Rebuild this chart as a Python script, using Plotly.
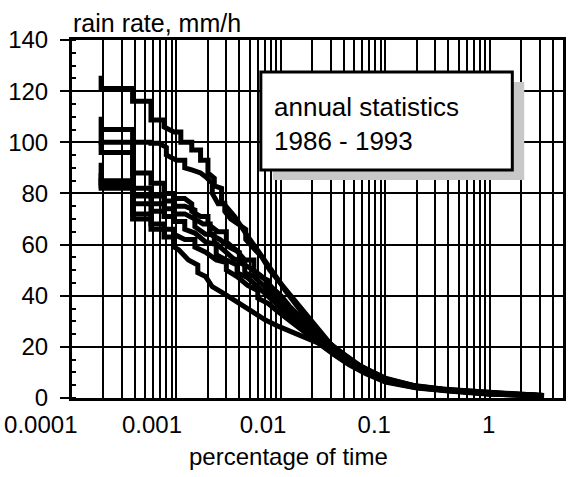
import plotly.graph_objects as go

# Exceedance curves: percentage of time (x) that the rain rate (y, mm/h) is exceeded,
# one curve per year. 0.00019 % of a year is one minute.
YEARS = ["1986", "1987", "1988", "1989", "1990", "1991", "1992", "1993"]

p_1986 = [0.00019, 0.00019, 0.00038, 0.00038, 0.00057, 0.00057, 0.00076, 0.00076, 0.00095, 0.0011, 0.0011,
          0.0014, 0.0014, 0.0017, 0.0017, 0.002, 0.002, 0.0023, 0.0023, 0.0027, 0.0027, 0.003, 0.0036, 0.0046,
          0.0055, 0.0066, 0.008, 0.0095, 0.011, 0.013, 0.016, 0.02, 0.025, 0.032, 0.042, 0.06, 0.1, 0.18, 0.35,
          0.7, 1.4, 2.8]
r_1986 = [126, 121, 121, 116, 116, 108.7, 108.7, 106, 104, 104, 100,
          100, 97, 97, 93, 93, 88, 86, 83, 82, 77, 75, 71, 64.4,
          60, 55, 50, 46, 42, 38, 33, 28, 24, 20, 16.5, 12, 7.8, 5, 3.5,
          2.5, 1.8, 1.2]

p_1987 = [0.00019, 0.00019, 0.00038, 0.00038, 0.00057, 0.00057, 0.00068, 0.0008, 0.0008, 0.001, 0.0012, 0.0012,
          0.0014, 0.0017, 0.0019, 0.0022, 0.0022, 0.0025, 0.0029, 0.0029, 0.0033, 0.0038, 0.0046, 0.0046, 0.0055,
          0.0066, 0.0078, 0.0094, 0.011, 0.0126, 0.015, 0.017, 0.0226, 0.03, 0.04, 0.055, 0.1, 0.2, 0.4, 1.0,
          2.0, 3.2]
r_1987 = [110, 105, 105, 100, 100, 99.6, 99.6, 98, 95, 93, 93, 90,
          89.2, 88, 86.5, 84, 80, 76, 76, 73, 70, 68.3, 66, 62, 58.5,
          55, 50, 46, 42.5, 39.6, 36, 33, 26.6, 21, 17, 13, 7.5, 4.6, 3.2, 2.0,
          1.5, 1.1]

p_1988 = [0.00019, 0.00019, 0.00038, 0.00038, 0.00057, 0.00057, 0.00076, 0.00076, 0.00095, 0.00095, 0.0012,
          0.0014, 0.0014, 0.0017, 0.002, 0.002, 0.0025, 0.003, 0.003, 0.0037, 0.0045, 0.0055, 0.0055, 0.0068,
          0.0083, 0.01, 0.012, 0.015, 0.02, 0.027, 0.035, 0.05, 0.08, 0.1, 0.2, 0.4, 1.0, 2.0, 3.3]
r_1988 = [104, 100, 100, 88, 88, 84, 84, 80, 80, 78, 78,
          76, 73, 71, 71, 68, 65, 65, 61, 58, 54, 54, 50, 47,
          43, 40, 36, 32, 26.5, 21.5, 17.5, 13, 9, 7.2, 4.5, 3.1, 1.9, 1.3, 1.0]

p_1989 = [0.00019, 0.00019, 0.00038, 0.00038, 0.00057, 0.00057, 0.00076, 0.00076, 0.00095, 0.00095, 0.0012,
          0.0015, 0.0015, 0.0018, 0.0021, 0.0021, 0.0026, 0.0032, 0.004, 0.004, 0.005, 0.006, 0.0075, 0.0075,
          0.009, 0.011, 0.014, 0.018, 0.024, 0.032, 0.045, 0.07, 0.1, 0.2, 0.4, 1.0, 2.0, 3.0]
r_1989 = [100, 96, 96, 82, 82, 79, 79, 77, 77, 75, 75,
          73.5, 70, 68, 68, 64, 62, 59, 57, 53, 51, 48, 46, 42,
          40, 36, 31.5, 27, 22, 18, 14, 10, 7, 4.3, 3.0, 1.8, 1.3, 1.0]

p_1990 = [0.00019, 0.00019, 0.00038, 0.00038, 0.00057, 0.00057, 0.00076, 0.00076, 0.00095, 0.00095, 0.0012,
          0.0015, 0.0015, 0.0019, 0.0023, 0.0023, 0.0028, 0.0035, 0.0045, 0.0045, 0.0055, 0.007, 0.0085, 0.01,
          0.013, 0.017, 0.022, 0.03, 0.042, 0.06, 0.1, 0.2, 0.4, 1.0, 2.0, 3.0]
r_1990 = [92, 85, 85, 79, 79, 76, 76, 74, 74, 72, 72,
          70, 67, 64, 64, 61, 58, 54.5, 53, 49, 47.5, 43.5, 39.5, 36,
          31, 27, 23, 18.5, 14.5, 11, 6.8, 4.2, 2.9, 1.7, 1.2, 0.9]

p_1991 = [0.00019, 0.00019, 0.00038, 0.00038, 0.00057, 0.00057, 0.00076, 0.00076, 0.00095, 0.00095, 0.0012,
          0.0012, 0.0015, 0.0019, 0.0024, 0.0024, 0.003, 0.0038, 0.0038, 0.0048, 0.006, 0.0075, 0.0092, 0.011,
          0.014, 0.018, 0.024, 0.032, 0.045, 0.065, 0.1, 0.2, 0.4, 1.0, 2.0, 2.9]
r_1991 = [88, 84, 84, 76, 76, 73, 73, 71, 71, 69, 69,
          66, 64.5, 61, 60, 56, 54, 52, 49, 47, 43.5, 40, 36.5, 33.5,
          29.5, 25.5, 21.5, 17.5, 13.5, 10, 6.5, 4.0, 2.8, 1.6, 1.1, 0.9]

p_1992 = [0.00019, 0.00019, 0.00038, 0.00038, 0.00057, 0.00057, 0.00076, 0.00076, 0.00095, 0.00095, 0.0012,
          0.0015, 0.0015, 0.0019, 0.0024, 0.003, 0.003, 0.0038, 0.0048, 0.006, 0.006, 0.0075, 0.0092, 0.011,
          0.014, 0.018, 0.024, 0.032, 0.045, 0.065, 0.1, 0.2, 0.4, 1.0, 2.0, 2.8]
r_1992 = [86, 83, 83, 72, 72, 68, 68, 66, 66, 64, 62,
          62, 59, 57, 54, 53, 50, 47.5, 44, 42, 39, 37, 34, 31.5,
          28, 24.5, 20.5, 17, 13, 9.5, 6.2, 3.9, 2.7, 1.5, 1.1, 0.8]

p_1993 = [0.00019, 0.00019, 0.00038, 0.00038, 0.00057, 0.00057, 0.00076, 0.00076, 0.00095, 0.00095, 0.00105,
          0.0013, 0.0016, 0.0016, 0.0019, 0.0022, 0.0028, 0.004, 0.0055, 0.0071, 0.0095, 0.0136, 0.018, 0.0226,
          0.03, 0.04, 0.055, 0.08, 0.1, 0.2, 0.4, 1.0, 2.0, 2.8]
r_1993 = [84, 82, 82, 70, 70, 66, 66, 63, 63, 59, 58,
          54, 52, 49, 47.5, 43.5, 41, 37, 33.5, 30.5, 28, 25.4, 23, 21.5,
          18, 14.5, 11.5, 8.5, 7.0, 4.3, 2.9, 1.6, 1.1, 0.9]

PERCENT = [p_1986, p_1987, p_1988, p_1989, p_1990, p_1991, p_1992, p_1993]
RATE = [r_1986, r_1987, r_1988, r_1989, r_1990, r_1991, r_1992, r_1993]

X_TICKS = [0.0001, 0.001, 0.01, 0.1, 1]
X_LABELS = ["0.0001", "0.001", "0.01", "0.1", "1"]
Y_TICKS = [0, 20, 40, 60, 80, 100, 120, 140]

FONT = "Liberation Sans, Arial, Helvetica, sans-serif"

fig = go.Figure()
for year, p, r in zip(YEARS, PERCENT, RATE):
    fig.add_trace(go.Scatter(x=p, y=r, mode="lines", name=year,
                             line=dict(color="black", width=5)))

# plot box in pixels: left 72, right 566, top 40, bottom 398
W, H = 568, 477
L, R, T, B = 72, 2, 40, 79
pw, ph = W - L - R, H - T - B


def px(x):
    return (x - L) / pw


def py(y):
    return (H - B - y) / ph


fig.update_layout(
    width=W, height=H,
    margin=dict(l=L, r=R, t=T, b=B),
    paper_bgcolor="white", plot_bgcolor="white",
    showlegend=False,
    font=dict(family=FONT, color="black", size=24),
    xaxis=dict(
        type="log", range=[-4, 0.699],
        tickvals=X_TICKS, ticktext=X_LABELS,
        ticks="", ticklabelposition="outside left", ticklabelshift=7,
        ticklabelstandoff=3,
        showgrid=True, gridcolor="black", gridwidth=2,
        minor=dict(dtick="D1", showgrid=True, gridcolor="black", gridwidth=2, ticks=""),
        showline=True, linecolor="black", linewidth=3, mirror=True,
        zeroline=False,
    ),
    yaxis=dict(
        range=[0, 140], tickvals=Y_TICKS,
        ticks="outside", ticklen=9, tickwidth=2, tickcolor="black",
        ticklabelstandoff=7,
        showgrid=True, gridcolor="black", gridwidth=2,
        minor=dict(dtick=5, ticks="inside", ticklen=4, tickwidth=2, tickcolor="black", showgrid=False),
        showline=True, linecolor="black", linewidth=3, mirror=True,
        zeroline=False,
    ),
    shapes=[
        # drop shadow of the caption box
        dict(type="rect", xref="paper", yref="paper",
             x0=px(274), x1=px(527), y0=py(180), y1=py(82),
             fillcolor="#c8c8c8", line=dict(width=0), layer="above"),
        # caption box
        dict(type="rect", xref="paper", yref="paper",
             x0=px(262), x1=px(515), y0=py(170), y1=py(72),
             fillcolor="white", line=dict(color="black", width=3), layer="above"),
    ],
    annotations=[
        dict(text="rain rate, mm/h", xref="paper", yref="paper",
             x=px(71), y=py(23), xanchor="left", yanchor="middle",
             showarrow=False, font=dict(size=25)),
        dict(text="percentage of time", xref="paper", yref="paper",
             x=px(290), y=py(457), xanchor="center", yanchor="middle",
             showarrow=False, font=dict(size=24)),
        dict(text="annual statistics<br>1986 - 1993", xref="paper", yref="paper",
             x=px(273), y=py(124), xanchor="left", yanchor="middle", align="left",
             showarrow=False, font=dict(size=26)),
    ],
)

fig.write_html("out.html")
